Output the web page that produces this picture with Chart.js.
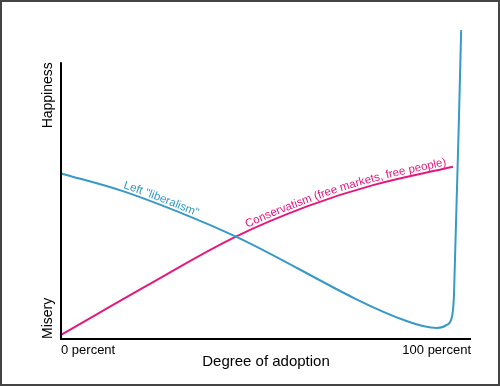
<!DOCTYPE html>
<html>
<head>
<meta charset="utf-8">
<script src="https://cdn.jsdelivr.net/npm/chart.js@4"></script>
<style>
  html, body { margin: 0; padding: 0; background: #fff; }
  #wrap { width: 500px; height: 386px; position: relative; }
</style>
</head>
<body>
<div id="wrap"><canvas id="c" width="500" height="386"></canvas></div>
<script>
// ---- data ----
const seriesLabels = ['Left "liberalism"', 'Conservatism (free markets, free people)'];
const liberalX = [0, 14.9, 31.0, 42.4, 84.6, 91.7, 94.1, 95.4, 95.85, 97.6];
const liberalY = [59.8, 53.5, 44.5, 37.2, 6.3, 4.0, 5.1, 8.3, 15.9, 111.6];
const conservX = [0, 21.7, 42.4, 60.0, 76.1, 95.6];
const conservY = [1.5, 19.9, 36.8, 47.9, 55.6, 62.2];
const xTickLabels = ['0 percent', '100 percent'];
const xTickValues = [0, 100];
const yEndLabels = ['Misery', 'Happiness'];
const yEndValues = [0, 100];
const xTitle = 'Degree of adoption';

const FONT = '"Liberation Sans", Arial, Helvetica, sans-serif';
const BLUE = '#3799c6';
const PINK = '#e3197f';

function buildPoly(meta) {
  const pts = meta.data;
  const poly = [];
  for (let i = 0; i < pts.length - 1; i++) {
    const p0 = pts[i], p3 = pts[i + 1];
    const c1x = p0.cp2x ?? p0.x, c1y = p0.cp2y ?? p0.y;
    const c2x = p3.cp1x ?? p3.x, c2y = p3.cp1y ?? p3.y;
    const N = 40;
    for (let k = (i === 0 ? 0 : 1); k <= N; k++) {
      const t = k / N, u = 1 - t;
      const x = u*u*u*p0.x + 3*u*u*t*c1x + 3*u*t*t*c2x + t*t*t*p3.x;
      const y = u*u*u*p0.y + 3*u*u*t*c1y + 3*u*t*t*c2y + t*t*t*p3.y;
      poly.push({x, y});
    }
  }
  let s = 0;
  poly[0].s = 0;
  for (let i = 1; i < poly.length; i++) {
    s += Math.hypot(poly[i].x - poly[i-1].x, poly[i].y - poly[i-1].y);
    poly[i].s = s;
  }
  return poly;
}
function pointAt(poly, s) {
  if (s <= 0) return {x: poly[0].x, y: poly[0].y};
  for (let i = 1; i < poly.length; i++) {
    if (poly[i].s >= s) {
      const a = poly[i-1], b = poly[i];
      const f = (s - a.s) / ((b.s - a.s) || 1);
      return {x: a.x + (b.x - a.x) * f, y: a.y + (b.y - a.y) * f};
    }
  }
  const l = poly[poly.length - 1];
  return {x: l.x, y: l.y};
}
function curvedText(ctx, meta, text, startX, offset, color, font) {
  const poly = buildPoly(meta);
  let s = 0;
  for (let i = 0; i < poly.length; i++) { if (poly[i].x >= startX) { s = poly[i].s; break; } }
  ctx.save();
  ctx.font = font;
  ctx.fillStyle = color;
  ctx.textAlign = 'center';
  ctx.textBaseline = 'alphabetic';
  for (const ch of text) {
    const w = ctx.measureText(ch).width;
    const mid = s + w / 2;
    const p = pointAt(poly, mid);
    const a = pointAt(poly, mid - 4), b = pointAt(poly, mid + 4);
    const ang = Math.atan2(b.y - a.y, b.x - a.x);
    ctx.save();
    ctx.translate(p.x, p.y);
    ctx.rotate(ang);
    ctx.fillText(ch, 0, -offset);
    ctx.restore();
    s += w;
  }
  ctx.restore();
}

const decor = {
  id: 'decor',
  afterDatasetsDraw(chart) {
    const ctx = chart.ctx;
    const xs = chart.scales.x, ys = chart.scales.y;
    ctx.save();
    // axes
    ctx.fillStyle = '#000';
    const x0 = xs.getPixelForValue(0);
    const xEnd = chart.chartArea.right;
    const yBase = ys.getPixelForValue(0);
    const yTop = ys.getPixelForValue(100);
    ctx.fillRect(x0 - 1, yBase - 1, xEnd - x0 + 1, 2);
    ctx.fillRect(x0 - 1, yTop, 2, yBase - yTop + 1);
    // y end labels
    ctx.font = '14px ' + FONT;
    ctx.textBaseline = 'alphabetic';
    ctx.save();
    ctx.translate(51.5, ys.getPixelForValue(yEndValues[0]));
    ctx.rotate(-Math.PI / 2);
    ctx.textAlign = 'left';
    ctx.fillText(yEndLabels[0], 0, 0);
    ctx.restore();
    ctx.save();
    ctx.translate(51.5, ys.getPixelForValue(yEndValues[1]));
    ctx.rotate(-Math.PI / 2);
    ctx.textAlign = 'right';
    ctx.fillText(yEndLabels[1], 0, 0);
    ctx.restore();
    // x tick labels
    ctx.font = '13px ' + FONT;
    ctx.textAlign = 'left';
    ctx.fillText(xTickLabels[0], xs.getPixelForValue(xTickValues[0]), 354);
    ctx.textAlign = 'right';
    ctx.fillText(xTickLabels[1], xEnd, 354);
    // x title
    ctx.font = '15px ' + FONT;
    ctx.textAlign = 'center';
    ctx.fillText(xTitle, (x0 + xEnd) / 2, 366);
    // frame
    ctx.strokeStyle = '#444';
    ctx.lineWidth = 2;
    ctx.strokeRect(1, 1, chart.width - 2, chart.height - 2);
    ctx.restore();
    // curved series labels
    curvedText(ctx, chart.getDatasetMeta(0), seriesLabels[0], 122, 3, BLUE, '11.5px ' + FONT);
    curvedText(ctx, chart.getDatasetMeta(1), seriesLabels[1], 247, 3, PINK, '11.5px ' + FONT);
  }
};

new Chart(document.getElementById('c'), {
  type: 'line',
  data: {
    datasets: [
      {
        label: seriesLabels[0],
        data: liberalX.map((x, i) => ({x, y: liberalY[i]})),
        borderColor: BLUE, borderWidth: 2, pointRadius: 0,
        cubicInterpolationMode: 'monotone', fill: false, clip: false
      },
      {
        label: seriesLabels[1],
        data: conservX.map((x, i) => ({x, y: conservY[i]})),
        borderColor: PINK, borderWidth: 2, pointRadius: 0,
        tension: 0.4, fill: false, clip: false
      }
    ]
  },
  options: {
    responsive: false,
    animation: false,
    events: [],
    layout: { padding: { left: 61, right: 29, top: 29, bottom: 47 } },
    plugins: { legend: { display: false }, tooltip: { enabled: false } },
    scales: {
      x: { type: 'linear', min: 0, max: 100, display: false },
      y: { type: 'linear', min: 0, max: 112, display: false }
    }
  },
  plugins: [decor]
});
</script>
</body>
</html>
